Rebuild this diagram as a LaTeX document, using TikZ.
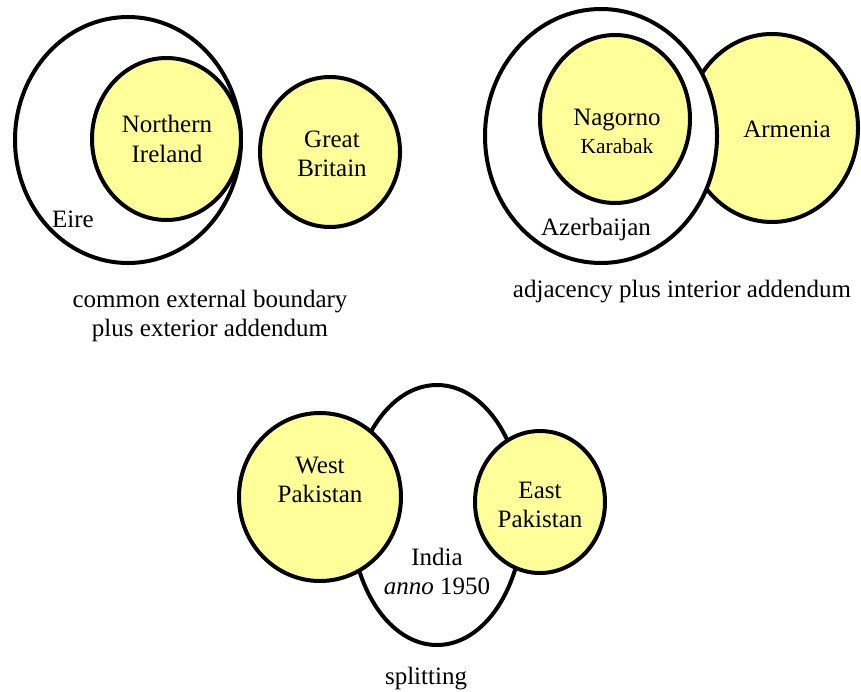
\documentclass[tikz,border=0pt]{standalone}
\usepackage{fontspec}
\setmainfont{Liberation Serif}
\usetikzlibrary{shapes.geometric}
\definecolor{landyellow}{RGB}{255,255,153}
\tikzset{
  land/.style={ellipse, draw=black, line width=4pt, inner sep=0pt, outer sep=0pt},
  part/.style={land, fill=landyellow},
  whole/.style={land, fill=white},
  txt/.style={font=\fontsize{25}{29}\selectfont, anchor=base, inner sep=0pt},
  smalltxt/.style={font=\fontsize{21.5}{26}\selectfont, anchor=base, inner sep=0pt}
}
\begin{document}
\begin{tikzpicture}[x=1pt, y=-1pt]
\path[use as bounding box, fill=white] (0,0) rectangle (861,691);

% Ireland: enclave touching the boundary, island outside
\node[whole, minimum width=226pt, minimum height=246pt] (eire) at (128,140) {};
\node[part, minimum width=149pt, minimum height=162pt] (ni) at (166.5,139) {};
\node[part, minimum width=140pt, minimum height=150pt] (gb) at (330,152) {};
\node[txt] (ni1) at (167,132) {Northern};
\node[txt] (ni2) at (167,162) {Ireland};
\node[txt] (gb1) at (332,147) {Great};
\node[txt] (gb2) at (332,176) {Britain};
\node[txt] (eirelbl) at (73,227) {Eire};
\node[txt] (cap1a) at (210,307) {common external boundary};
\node[txt] (cap1b) at (210,336) {plus exterior addendum};

% Caucasus: interior enclave, neighbour alongside
\node[part, minimum width=172pt, minimum height=188pt] (arm) at (772,128) {};
\node[whole, minimum width=232pt, minimum height=254pt] (aze) at (601,136) {};
\node[part, minimum width=150pt, minimum height=168pt] (nk) at (615,119) {};
\node[txt] (nk1) at (617,125) {Nagorno};
\node[smalltxt] (nk2) at (617,153) {Karabak};
\node[txt] (armlbl) at (787,137) {Armenia};
\node[txt] (azelbl) at (596,235) {Azerbaijan};
\node[txt] (cap2) at (682,297) {adjacency plus interior addendum};

% Subcontinent: one region split into two
\node[whole, minimum width=172pt, minimum height=260pt] (ind) at (437,515) {};
\node[part, minimum width=162pt, minimum height=168pt] (wp) at (320,497) {};
\node[part, minimum width=130pt, minimum height=142pt] (ep) at (540,502) {};
\node[txt] (wp1) at (320,473) {West};
\node[txt] (wp2) at (320,502) {Pakistan};
\node[txt] (ep1) at (540,498) {East};
\node[txt] (ep2) at (540,527) {Pakistan};
\node[txt] (ind1) at (437,565) {India};
\node[txt] (ind2) at (437,594) {\textit{anno} 1950};
\node[txt] (cap3) at (426,684) {splitting};
\end{tikzpicture}
\end{document}
